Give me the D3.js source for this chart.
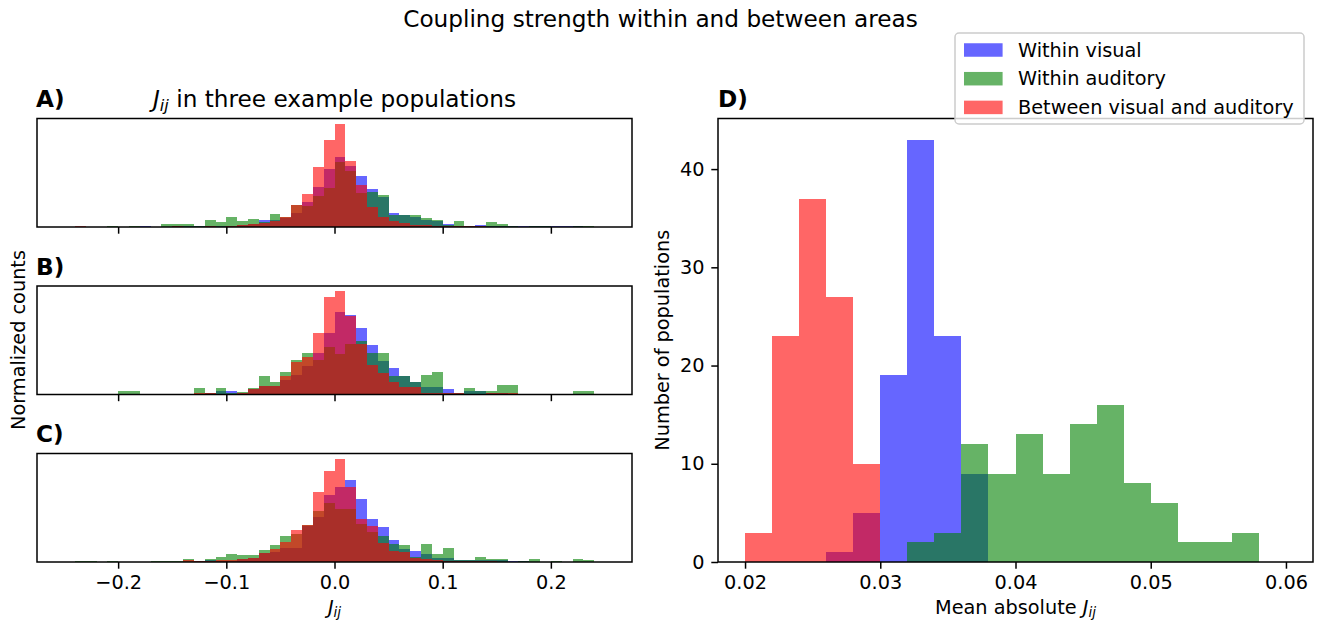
<!DOCTYPE html>
<meta charset="utf-8">
<html>
<script src="https://d3js.org/d3.v7.min.js"></script>
<style>
  body { margin: 0; background: #fff; }
  text { font-family: "DejaVu Sans", sans-serif; fill: #000; }
</style>
<div id="chart"></div>
<script>

// bin edges of the J_ij histograms (A-C), 0.01 wide
var jEdges = [-0.25, -0.24, -0.23, -0.22, -0.21, -0.20, -0.19, -0.18, -0.17, -0.16,
              -0.15, -0.14, -0.13, -0.12, -0.11, -0.10, -0.09, -0.08, -0.07, -0.06,
              -0.05, -0.04, -0.03, -0.02, -0.01, 0.00, 0.01, 0.02, 0.03, 0.04,
              0.05, 0.06, 0.07, 0.08, 0.09, 0.10, 0.11, 0.12, 0.13, 0.14,
              0.15, 0.16, 0.17, 0.18, 0.19, 0.20, 0.21, 0.22, 0.23, 0.24, 0.25];
var jTicks = [-0.2, -0.1, 0.0, 0.1, 0.2];

// normalized counts (relative to the tallest bin of each panel)
var visualA   = [0,0,0,0,0,0,0,0.6,0,0, 1,0.5,0.5,0.5,1,1,2,3,7,7, 9,14,24,39,56,68,59,49,37,29, 14,12,10,7,5.5,3,1,0.5,1.5,1, 1,0.5,1,0.5,0.5,1,0.5,0.5,0,0];
var auditoryA = [0,0,0,0,1.3,0,1.3,0,0,3.2, 3.2,3.2,1.3,6.4,4.5,9.6,6,8,5,12.5, 10,21,20.6,30,38,63,54,33,34,31, 12,11.6,12,8.3,7,1.5,6,0.5,0.5,4.5, 3.2,1.3,0,1,1,0,0,1.3,1.3,0];
var betweenA  = [0,0.6,0,0,0,0,0,0,0,0, 0.5,0,0,0.5,0,0.5,1.5,3,4,6, 10,21,31.6,58,84.5,100,64,41,19,9.7, 5.5,4.2,2.3,2,1.3,1,1,1,0.5,0, 0,0,0,0,0,0,0,0,0,0];

var visualB   = [0,0,0,0,0,0,0,0.6,0,0, 0.6,0,0.5,1,3,3,1.6,5.4,8,8, 13.7,19,28,40,60,80,77,64,48,32, 25.5,18,12,7,7,5.8,1,3,3,1, 1,0.5,0,0.6,0.6,0,0,0,0,0];
var auditoryB = [0,0,0,0,0,3,3,0,0,0, 0,0,6.4,1,6.4,1,2.2,6.4,18,12, 21.4,33,40,33.5,46,39,49,52,40,40, 18,18,12,18.5,21.4,1.6,1,6.4,3,3, 9,9,0,0,0,0,0,3,3,0];
var betweenB  = [0,0,0,0,0,0,0,0,0.6,0, 0,0,1.6,1,0,0,1.6,5.4,8,8, 17.6,31,36,60,94,100,76,49,29,21, 12,7,7,1.6,1.6,1,1,0.5,0,1.6, 1,1,0.6,0,0,0,0,0,0,0];

var visualC   = [0,0,0,0,0,0,0,0,0,0, 0,0,0.5,1.6,1,1,3,4,9,10, 14,14,35,44,65,73,79.5,61,42,34, 21,13,11,8,4,4,2.2,1.6,2.2,2.2, 1.6,0.6,0.5,0,0,0,0,0,0,0];
var auditoryC = [0,1,1,0,1,0,0,0,1,1, 1,2.6,1,3.2,5,8,6.4,6.4,12,16, 25,27,36,49,57,51,51,37,29,25, 17,16,5,17,8,13.5,1.6,2.2,4.5,3.2, 3.2,0,1,3.2,0,1,0,3.2,1.6,0];
var betweenC  = [0,0,0,0,0,0,0,0,0,0, 0,1.6,1,0.5,1.6,1.6,3,4,9,13, 19,31,36,68,88,100,73,42,35,18.6, 11,10,4,3,2,1,0.5,0.5,0.5,0.5, 0,0,0,0,0,0,0,0,0,0];

// mean absolute J_ij per population (D), bins 0.002 wide
var meanEdges = [0.020, 0.022, 0.024, 0.026, 0.028, 0.030, 0.032, 0.034, 0.036, 0.038, 0.040,
                 0.042, 0.044, 0.046, 0.048, 0.050, 0.052, 0.054, 0.056, 0.058, 0.060];
var meanVisual   = [0,0,0,1,5,19,43,23,9,0, 0,0,0,0,0,0,0,0,0,0];
var meanAuditory = [0,0,0,0,0,0,2,3,12,9, 13,9,14,16,8,6,2,2,3,0];
var meanBetween  = [3,23,37,27,10,0,0,0,0,0, 0,0,0,0,0,0,0,0,0,0];
var meanXTicks = [0.02, 0.03, 0.04, 0.05, 0.06];
var meanYTicks = [0, 10, 20, 30, 40];

var seriesNames = ["Within visual", "Within auditory", "Between visual and auditory"];
var seriesColors = ["#0000ff", "#008000", "#ff0000"];

var width = 1321, height = 626;
var fs = 19.3, fsBig = 23.2;

var svg = d3.select("#chart").append("svg")
    .attr("width", width)
    .attr("height", height);

// draws one overlaid histogram (blue, green, red on top)
function drawHist(g, x, y, edges, seriesList) {
  seriesList.forEach(function(vals, s) {
    g.append("g").selectAll("rect")
      .data(vals.map(function(v, i) { return {v: v, i: i}; }).filter(function(d) { return d.v > 0; }))
      .enter().append("rect")
        .attr("x", function(d) { return Math.round(x(edges[d.i])); })
        .attr("width", function(d) { return Math.round(x(edges[d.i + 1])) - Math.round(x(edges[d.i])); })
        .attr("y", function(d) { return y(d.v); })
        .attr("height", function(d) { return y(0) - y(d.v); })
        .attr("fill", seriesColors[s])
        .attr("fill-opacity", 0.6)
        .attr("shape-rendering", "crispEdges");
  });
}

function styleAxis(ax) {
  ax.select(".domain").remove();
  ax.selectAll(".tick line").attr("stroke", "#000").attr("stroke-width", 1.5);
  ax.selectAll(".tick text").style("font-size", fs + "px").attr("font-family", "DejaVu Sans");
}

function frame(g, x0, y0, w, h) {
  g.append("rect")
    .attr("x", x0).attr("y", y0).attr("width", w).attr("height", h)
    .attr("fill", "none").attr("stroke", "#000").attr("stroke-width", 1.5);
}

// adds J_ij (italic J with subscript ij) to a text element
function addJij(t) {
  t.append("tspan").style("font-style", "italic").text("J");
  t.append("tspan").style("font-style", "italic").style("font-size", "70%").attr("dy", "0.22em").text("ij");
}

// ----- panels A, B, C -----
var leftX0 = 37, leftX1 = 632;
var panelTops = [118.5, 286, 453.5];
var panelH = 108.5;
var panelData = [[visualA, auditoryA, betweenA], [visualB, auditoryB, betweenB], [visualC, auditoryC, betweenC]];
var panelLetters = ["A)", "B)", "C)"];

var xJ = d3.scaleLinear().domain([-0.275, 0.275]).range([leftX0, leftX1]);

panelData.forEach(function(series, p) {
  var top = panelTops[p];
  var maxV = d3.max(series, function(s) { return d3.max(s); });
  var y = d3.scaleLinear().domain([0, maxV * 1.05]).range([top + panelH, top]);
  var g = svg.append("g");
  drawHist(g, xJ, y, jEdges, series);

  var ax = g.append("g")
    .attr("transform", "translate(0," + (top + panelH) + ")")
    .call(d3.axisBottom(xJ).tickValues(jTicks).tickSize(6.7).tickPadding(6.7)
      .tickFormat(p == 2 ? d3.format(".1f") : ""));
  styleAxis(ax);
  frame(g, leftX0, top, leftX1 - leftX0, panelH);

  g.append("text")
    .attr("x", leftX0 - 1).attr("y", top - 11.5)
    .style("font-size", fsBig + "px").style("font-weight", "bold")
    .text(panelLetters[p]);
});

// panel A title
var tA = svg.append("text")
  .attr("x", (leftX0 + leftX1) / 2).attr("y", 107)
  .attr("text-anchor", "middle")
  .style("font-size", fsBig + "px");
addJij(tA);
tA.append("tspan").attr("dy", "-0.154em").text(" in three example populations");

// x label under C
var tC = svg.append("text")
  .attr("x", (leftX0 + leftX1) / 2).attr("y", 614)
  .attr("text-anchor", "middle")
  .style("font-size", fs + "px");
addJij(tC);

// shared y label
svg.append("text")
  .attr("transform", "translate(18," + 340 + ") rotate(-90)")
  .attr("text-anchor", "middle").attr("dy", "0.35em")
  .style("font-size", fs + "px")
  .text("Normalized counts");

// ----- panel D -----
var dX0 = 718, dX1 = 1313, dTop = 118.5, dBot = 562;
var xD = d3.scaleLinear().domain([0.018, 0.062]).range([dX0, dX1]);
var dMax = d3.max([meanVisual, meanAuditory, meanBetween], function(s) { return d3.max(s); });
var yD = d3.scaleLinear().domain([0, dMax * 1.05]).range([dBot, dTop]);

var gD = svg.append("g");
drawHist(gD, xD, yD, meanEdges, [meanVisual, meanAuditory, meanBetween]);

var axDx = gD.append("g")
  .attr("transform", "translate(0," + dBot + ")")
  .call(d3.axisBottom(xD).tickValues(meanXTicks).tickSize(6.7).tickPadding(6.7).tickFormat(d3.format(".2f")));
styleAxis(axDx);
var axDy = gD.append("g")
  .attr("transform", "translate(" + dX0 + ",0)")
  .call(d3.axisLeft(yD).tickValues(meanYTicks).tickSize(6.7).tickPadding(6.7));
styleAxis(axDy);
frame(gD, dX0, dTop, dX1 - dX0, dBot - dTop);

gD.append("text")
  .attr("x", dX0).attr("y", dTop - 11.5)
  .style("font-size", fsBig + "px").style("font-weight", "bold")
  .text("D)");

var tD = svg.append("text")
  .attr("x", (dX0 + dX1) / 2).attr("y", 614)
  .attr("text-anchor", "middle")
  .style("font-size", fs + "px");
tD.append("tspan").text("Mean absolute ");
addJij(tD);

svg.append("text")
  .attr("transform", "translate(662," + ((dTop + dBot) / 2) + ") rotate(-90)")
  .attr("text-anchor", "middle").attr("dy", "0.35em")
  .style("font-size", fs + "px")
  .text("Number of populations");

// ----- suptitle -----
svg.append("text")
  .attr("x", width / 2).attr("y", 27)
  .attr("text-anchor", "middle")
  .style("font-size", fsBig + "px")
  .text("Coupling strength within and between areas");

// ----- legend -----
var leg = svg.append("g").attr("transform", "translate(955,33)");
leg.append("rect")
  .attr("width", 349).attr("height", 91).attr("rx", 4)
  .attr("fill", "#fff").attr("fill-opacity", 0.8)
  .attr("stroke", "#cccccc").attr("stroke-width", 1.5);

var items = leg.selectAll(".legend")
  .data(seriesNames)
  .enter().append("g")
  .attr("class", "legend")
  .attr("transform", function(d, i) { return "translate(0," + (17 + i * 28.7) + ")"; });

items.append("rect")
  .attr("x", 9).attr("y", -6.75)
  .attr("width", 38.6).attr("height", 13.5)
  .attr("fill", function(d, i) { return seriesColors[i]; })
  .attr("fill-opacity", 0.6);

items.append("text")
  .attr("x", 63).attr("dy", "0.35em")
  .style("font-size", fs + "px")
  .text(function(d) { return d; });

</script>
</html>
